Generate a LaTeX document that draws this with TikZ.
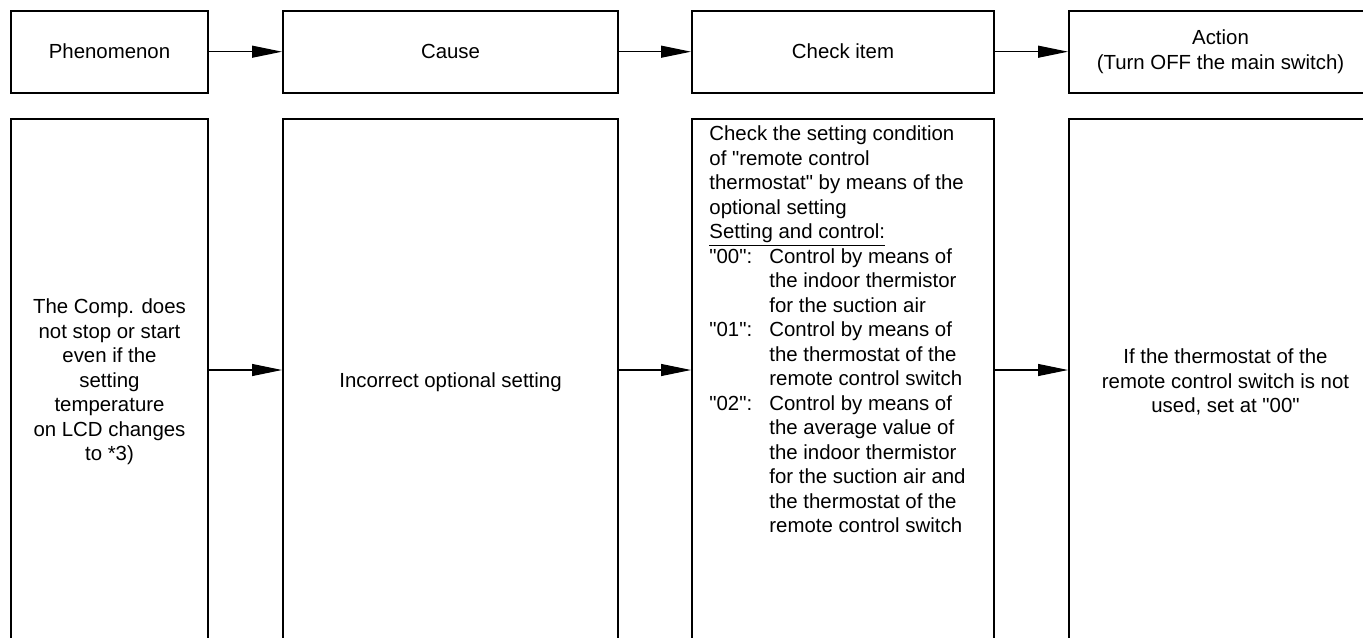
\documentclass[tikz,border=0pt]{standalone}
\usepackage{fontspec}
\setmainfont{Liberation Sans}[Ligatures=TeXOff]
\usetikzlibrary{arrows.meta}
\begin{document}
\begin{tikzpicture}[x=0.5pt,y=-0.5pt,
  txt/.style={font=\fontsize{10.2pt}{12.25pt}\selectfont},
  headbox/.style={draw,line width=1pt,minimum height=41pt,minimum width=#1,
    inner sep=0pt,align=center,txt},
  colbox/.style={draw,line width=1pt,minimum height=263pt,minimum width=#1,
    inner sep=0pt,align=center,txt},
  arr/.style={line width=0.55pt,-{Triangle[length=15pt,width=6pt]}}]
\useasboundingbox (0,0) rectangle (1363,637);
\clip (0,0) rectangle (1363,637);

% header row
\node[headbox=98.5pt]  (h1) at (109.5,51.7) {Phenomenon};
\node[headbox=167.5pt] (h2) at (450.5,51.7) {Cause};
\node[headbox=151pt]   (h3) at (843,51.7)   {Check item};
\node[headbox=151.5pt] (h4) at (1220.5,51.7) {Action\\(Turn OFF the main switch)};

\draw[arr] (h1) -- (h2);
\draw[arr] (h2) -- (h3);
\draw[arr] (h3) -- (h4);

% content row
\node[colbox=98.5pt]  (c1) at (109.5,382) {The Comp. does\\not stop or start\\even if the\\setting\\temperature\\on LCD changes\\to *3)};
\node[colbox=167.5pt] (c2) at (450.5,382) {Incorrect optional setting};
\node[colbox=151pt]   (c3) at (843,382) {};
\node[colbox=151.5pt] (c4) at (1220.5,382) {\hspace*{5pt}If the thermostat of the\\\hspace*{5pt}remote control switch is not\\\hspace*{5pt}used, set at "00"};

\node[anchor=north west,inner sep=0pt,align=left,txt] (chk) at (709,125.5)
 {Check the setting condition\\
  of "remote control\\
  thermostat" by means of the\\
  optional setting\\
  \underline{Setting and control:}\\
  \makebox[30pt][l]{"00":}Control by means of\\
  \hspace*{30pt}the indoor thermistor\\
  \hspace*{30pt}for the suction air\\
  \makebox[30pt][l]{"01":}Control by means of\\
  \hspace*{30pt}the thermostat of the\\
  \hspace*{30pt}remote control switch\\
  \makebox[30pt][l]{"02":}Control by means of\\
  \hspace*{30pt}the average value of\\
  \hspace*{30pt}the indoor thermistor\\
  \hspace*{30pt}for the suction air and\\
  \hspace*{30pt}the thermostat of the\\
  \hspace*{30pt}remote control switch};

\draw[arr] ([yshift=6pt]c1.east) -- ([yshift=6pt]c2.west);
\draw[arr] ([yshift=6pt]c2.east) -- ([yshift=6pt]c3.west);
\draw[arr] ([yshift=6pt]c3.east) -- ([yshift=6pt]c4.west);
\end{tikzpicture}
\end{document}
